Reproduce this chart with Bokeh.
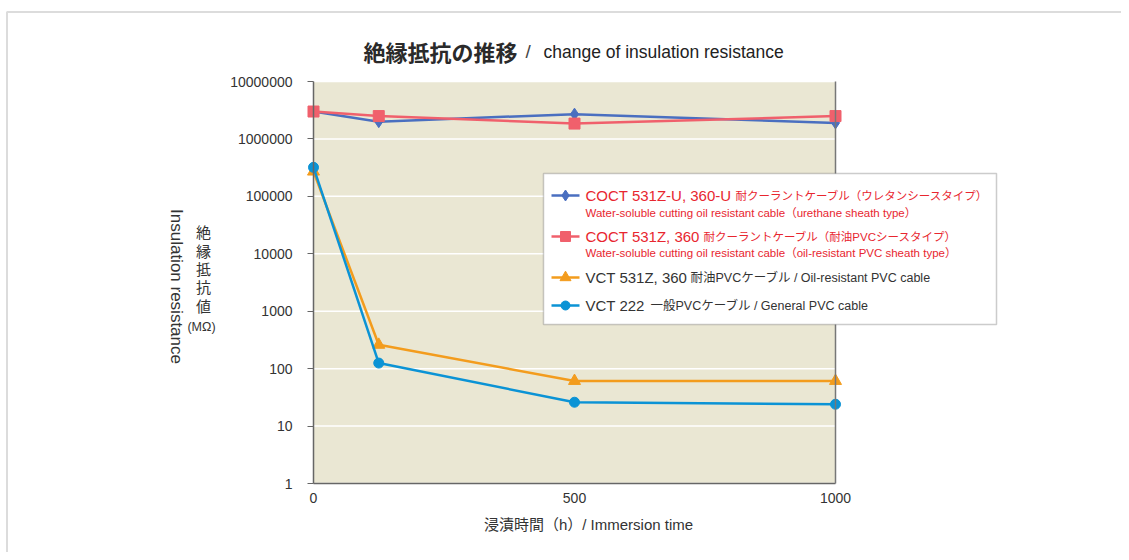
import math
from bokeh.plotting import figure
from bokeh.models import (Range1d, FixedTicker, PrintfTickFormatter, Label, BoxAnnotation,
                          LogAxis, LinearAxis)
from bokeh.embed import file_html
from bokeh.resources import INLINE

# ---------------- data ----------------
hours = [0, 125, 500, 1000]
coct_u = [3.0e6, 2.0e6, 2.7e6, 1.9e6]      # COCT 531Z-U, 360-U
coct_z = [3.0e6, 2.5e6, 1.85e6, 2.5e6]     # COCT 531Z, 360
vct_531 = [2.7e5, 260, 61, 61]             # VCT 531Z, 360
vct_222 = [3.2e5, 125, 26, 24]             # VCT 222

x_ticks = [0, 500, 1000]
y_ticks = [1, 10, 100, 1000, 10000, 100000, 1000000, 10000000]

title_jp = "絶縁抵抗の推移"
title_en = "change of insulation resistance"
x_title = "浸漬時間（h）/ Immersion time"
y_title_en = "Insulation resistance"
y_title_jp = "絶\n縁\n抵\n抗\n値"
y_unit = "(MΩ)"

legend_main = ["COCT 531Z-U, 360-U", "COCT 531Z, 360", "VCT 531Z, 360", "VCT 222"]
legend_jp = ["耐クーラントケーブル（ウレタンシースタイプ）",
             "耐クーラントケーブル（耐油PVCシースタイプ）",
             "耐油PVCケーブル / Oil-resistant PVC cable",
             "一般PVCケーブル / General PVC cable"]
legend_sub = ["Water-soluble cutting oil resistant cable（urethane sheath type）",
              "Water-soluble cutting oil resistant cable（oil-resistant PVC sheath type）",
              None, None]

# ---------------- styling ----------------
colors = ["#4a6fc0", "#f0606c", "#f39c1d", "#0b93d5"]
markers = ["diamond", "square", "triangle", "circle"]
msizes = [12, 11, 12, 10]
text_colors = ["#e8262f", "#e8262f", "#333333", "#333333"]
FONT = "Liberation Sans, Noto Sans CJK JP"
JP = "Noto Sans CJK JP"
AXIS_C = "#666666"

W, H = 1121, 552
FL, FR, FT, FB = 313, 835, 81, 483  # plot-area edges in picture px


def dx(px):
    return (px - FL) / (FR - FL) * (x_ticks[-1] - x_ticks[0]) + x_ticks[0]


def dy(py):
    decades = math.log10(y_ticks[-1]) - math.log10(y_ticks[0])
    return y_ticks[0] * 10 ** ((FB - py) / ((FB - FT) / decades))


p = figure(width=W, height=H, x_range=Range1d(dx(0), dx(W)), y_range=Range1d(dy(H), dy(0)),
           y_axis_type="log", x_axis_location=None, y_axis_location=None,
           output_backend="svg", toolbar_location=None,
           min_border_left=0, min_border_right=0, min_border_top=0, min_border_bottom=0)
p.background_fill_color = "white"
p.border_fill_color = "white"
p.outline_line_color = None
p.grid.visible = False

# plot area background
p.add_layout(BoxAnnotation(left=x_ticks[0], right=x_ticks[-1], bottom=y_ticks[0], top=y_ticks[-1],
                           fill_color="#eae7d3", fill_alpha=1, line_color=None, level="underlay"))

# horizontal grid lines at the decades
p.segment(x0=[x_ticks[0]] * len(y_ticks), x1=[x_ticks[-1]] * len(y_ticks), y0=y_ticks, y1=y_ticks,
          line_color="white", line_width=1.5)

# y axis
yax = LogAxis(fixed_location=x_ticks[0], bounds=(y_ticks[0], y_ticks[-1]))
yax.ticker = FixedTicker(ticks=y_ticks)
yax.formatter = PrintfTickFormatter(format="%d")
yax.minor_tick_line_color = None
yax.major_tick_out = 6
yax.major_tick_in = 0
yax.axis_line_color = AXIS_C
yax.axis_line_width = 1.5
yax.major_tick_line_color = AXIS_C
yax.major_tick_line_width = 1.2
yax.major_label_text_font = "Liberation Sans"
yax.major_label_text_font_size = "14px"
yax.major_label_text_color = "#333333"
yax.major_label_standoff = 15
p.add_layout(yax, "left")

# right border of plot area
rax = LogAxis(fixed_location=x_ticks[-1], bounds=(y_ticks[0], y_ticks[-1]))
rax.ticker = FixedTicker(ticks=[])
rax.major_label_text_font_size = "0px"
rax.minor_tick_line_color = None
rax.major_tick_line_color = None
rax.axis_line_color = "#777777"
rax.axis_line_width = 1.5
p.add_layout(rax, "right")

# x axis
xax = LinearAxis(fixed_location=y_ticks[0], bounds=(x_ticks[0], x_ticks[-1]))
xax.ticker = FixedTicker(ticks=x_ticks)
xax.minor_tick_line_color = None
xax.major_tick_out = 0
xax.major_tick_in = 0
xax.axis_line_color = AXIS_C
xax.axis_line_width = 1.5
xax.major_label_text_font = "Liberation Sans"
xax.major_label_text_font_size = "14px"
xax.major_label_text_color = "#333333"
xax.major_label_standoff = 9
p.add_layout(xax, "below")

# outer frame of the figure
p.add_layout(BoxAnnotation(left=dx(6.5), right=dx(W + 50), top=dy(11.5), bottom=dy(H + 50),
                           fill_alpha=0, line_color="#8c8c8c", line_width=2))

# data series
all_series = [coct_u, coct_z, vct_531, vct_222]
for ys, c, m, s in zip(all_series, colors, markers, msizes):
    p.line(hours, ys, line_color=c, line_width=2.5)
    p.scatter(hours, ys, marker=m, size=s, fill_color=c, line_color=c)

# legend box
p.add_layout(BoxAnnotation(left=dx(543), right=dx(996), top=dy(173), bottom=dy(324),
                           fill_color="white", fill_alpha=1, line_color="#555555", line_width=1.5))
row_y = [195, 236, 277, 305]
sub_y = [212, 252, None, None]
tail_x = [735, 703, 690, 650]
tail_size = ["11.5px", "11.5px", "12.5px", "12.5px"]
for i in range(4):
    yy = dy(row_y[i])
    p.line([dx(551), dx(579)], [yy, yy], line_color=colors[i], line_width=2.5, level="overlay")
    p.scatter([dx(565)], [yy], marker=markers[i], size=msizes[i] - 1, fill_color=colors[i],
              line_color=colors[i], level="overlay")
    p.add_layout(Label(x=dx(585), y=yy, text=legend_main[i], text_font=FONT,
                       text_font_size="15px", text_color=text_colors[i],
                       text_baseline="middle", text_align="left", level="overlay"))
    p.add_layout(Label(x=dx(tail_x[i]), y=yy, text=legend_jp[i], text_font=FONT,
                       text_font_size=tail_size[i], text_color=text_colors[i],
                       text_baseline="middle", text_align="left", level="overlay"))
    if legend_sub[i]:
        p.add_layout(Label(x=dx(585), y=dy(sub_y[i]), text=legend_sub[i], text_font=FONT,
                           text_font_size="11.5px", text_color=text_colors[i],
                           text_baseline="middle", text_align="left", level="overlay"))

# title
p.add_layout(Label(x=dx(363), y=dy(50), text=title_jp, text_font=JP, text_font_style="bold",
                   text_font_size="22px", text_color="#2a2a2a",
                   text_baseline="middle", text_align="left"))
p.add_layout(Label(x=dx(525), y=dy(51), text="/", text_font="Liberation Sans",
                   text_font_size="19px", text_color="#444444",
                   text_baseline="middle", text_align="left"))
p.add_layout(Label(x=dx(543), y=dy(51), text=title_en, text_font="Liberation Sans",
                   text_font_size="17.5px", text_color="#222222",
                   text_baseline="middle", text_align="left"))

# axis titles
p.add_layout(Label(x=dx(588), y=dy(524), text=x_title, text_font=FONT,
                   text_font_size="15px", text_color="#333333",
                   text_baseline="middle", text_align="center"))
p.add_layout(Label(x=dx(176), y=dy(286), text=y_title_en, text_font="Liberation Sans",
                   text_font_size="17px", text_color="#333333", angle=-math.pi / 2,
                   text_baseline="middle", text_align="center"))
p.add_layout(Label(x=dx(203), y=dy(268), text=y_title_jp, text_font=JP,
                   text_font_size="15px", text_color="#333333", text_line_height=0.88,
                   text_baseline="middle", text_align="center"))
p.add_layout(Label(x=dx(201), y=dy(326), text=y_unit, text_font="Liberation Sans",
                   text_font_size="12.5px", text_color="#333333",
                   text_baseline="middle", text_align="center"))

open("out.html", "w").write(file_html(p, INLINE))
